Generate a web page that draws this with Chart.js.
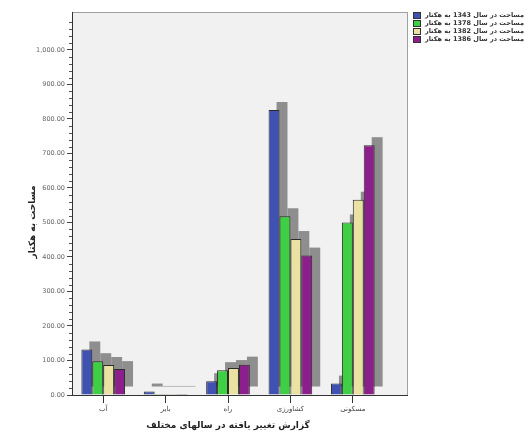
<!DOCTYPE html>
<html>
<head>
<meta charset="utf-8">
<script src="https://cdn.jsdelivr.net/npm/chart.js@4/dist/chart.umd.min.js"></script>
<style>
  html, body { margin: 0; padding: 0; background: #ffffff; }
  #wrap { width: 528px; height: 436px; position: relative; }
</style>
</head>
<body>
<div id="wrap"><canvas id="c" width="528" height="436"></canvas></div>
<script>
// Land use categories
const categories = ['آب', 'بایر', 'راه', 'کشاورزی', 'مسکونی'];

// Area (hectares) per survey year
const area1343 = [132, 10, 40, 826, 33];
const area1378 = [98, 3, 72, 518, 500];
const area1382 = [87, 3, 78, 452, 566];
const area1386 = [75, 3, 88, 404, 724];

const seriesLabels = [
  'مساحت در سال 1343 به هکتار',
  'مساحت در سال 1378 به هکتار',
  'مساحت در سال 1382 به هکتار',
  'مساحت در سال 1386 به هکتار'
];
const seriesColors = ['#3f52b2', '#3fcf45', '#e9e2a2', '#8c1f8c'];

const yTitle = 'مساحت به هکتار';
const xTitle = 'گزارش تغییر یافته در سالهای مختلف';

const FONT = '"DejaVu Sans", sans-serif';
const DEPTH = 8;          // offset of the back face of each bar
const FRAME_EXTRA = 24;   // frame continues past the last category

// Plot frame + background
const framePlugin = {
  id: 'frame',
  beforeDraw(chart) {
    const { ctx, chartArea: a } = chart;
    const w = a.right - a.left + FRAME_EXTRA;
    ctx.save();
    ctx.fillStyle = '#f1f1f1';
    ctx.fillRect(a.left, a.top, w, a.bottom - a.top);
    ctx.strokeStyle = '#a0a0a0';
    ctx.lineWidth = 1;
    ctx.strokeRect(a.left + 0.5, a.top + 0.5, w - 1, a.bottom - a.top);
    ctx.restore();
  },
  afterDraw(chart) {
    const { ctx, chartArea: a } = chart;
    ctx.save();
    ctx.strokeStyle = '#333';
    ctx.lineWidth = 1;
    ctx.beginPath();
    ctx.moveTo(a.left, Math.round(a.bottom) + 0.5);
    ctx.lineTo(a.right + FRAME_EXTRA, Math.round(a.bottom) + 0.5);
    ctx.stroke();
    ctx.restore();
  }
};

// Grey back faces of all bars, drawn underneath every bar front
const depthPlugin = {
  id: 'depth',
  beforeDatasetsDraw(chart) {
    const { ctx } = chart;
    ctx.save();
    ctx.fillStyle = '#8e8e8e';
    chart.data.datasets.forEach((ds, i) => {
      chart.getDatasetMeta(i).data.forEach(el => {
        const w = el.width;
        const left = el.x - w / 2 + DEPTH;
        const top = Math.min(el.y, el.base) - DEPTH;
        const bottom = el.base - DEPTH;
        ctx.fillRect(left, top, w, bottom - top);
      });
    });
    ctx.restore();
  }
};

// Minor ticks, axis title and legend
const decorPlugin = {
  id: 'decor',
  afterDraw(chart) {
    const { ctx, chartArea: a, scales } = chart;
    const y = scales.y;
    ctx.save();
    ctx.strokeStyle = '#555';
    ctx.lineWidth = 1;
    for (let v = 0; v <= 1100; v += 20) {
      if (v % 100 === 0) continue;
      const py = Math.round(y.getPixelForValue(v)) + 0.5;
      ctx.beginPath();
      ctx.moveTo(a.left - 3, py);
      ctx.lineTo(a.left, py);
      ctx.stroke();
    }

    // y title
    ctx.fillStyle = '#222';
    ctx.font = 'bold 9px ' + FONT;
    ctx.textAlign = 'center';
    ctx.textBaseline = 'middle';
    ctx.translate(33, 222);
    ctx.rotate(-Math.PI / 2);
    ctx.direction = 'rtl';
    ctx.fillText(yTitle, 0, 0);
    ctx.restore();

    // legend
    ctx.save();
    const lx = 413, ly0 = 15.5, step = 8;
    ctx.font = 'bold 6.5px ' + FONT;
    ctx.textBaseline = 'middle';
    ctx.direction = 'rtl';
    ctx.textAlign = 'right';
    seriesLabels.forEach((t, i) => {
      const cy = ly0 + i * step;
      ctx.fillStyle = seriesColors[i];
      ctx.fillRect(lx, cy - 3.5, 8, 7);
      ctx.strokeStyle = '#333';
      ctx.strokeRect(lx + 0.5, cy - 3, 7, 6);
      ctx.fillStyle = '#333';
      ctx.fillText(t, 524, cy);
    });
    ctx.restore();
  }
};

const datasets = [area1343, area1378, area1382, area1386].map((d, i) => ({
  label: seriesLabels[i],
  data: d,
  backgroundColor: seriesColors[i],
  borderColor: '#2a2a2a',
  borderWidth: 1,
  categoryPercentage: 0.7,
  barPercentage: 1.0
}));

new Chart(document.getElementById('c'), {
  type: 'bar',
  data: { labels: categories, datasets },
  plugins: [framePlugin, depthPlugin, decorPlugin],
  options: {
    responsive: false,
    animation: false,
    layout: { padding: { left: 0, top: 12, right: 144, bottom: 0 } },
    plugins: { legend: { display: false }, tooltip: { enabled: false } },
    scales: {
      x: {
        afterFit(s) { s.height = 41; },
        grid: { display: true, offset: false, drawOnChartArea: false, drawTicks: true, tickLength: 8, color: '#333' },
        border: { display: true, color: '#333', width: 1 },
        ticks: { font: { size: 7, family: FONT }, color: '#444', padding: 2, maxRotation: 0 },
        title: { display: true, text: xTitle, font: { size: 9, weight: 'bold', family: FONT }, color: '#222', padding: { top: 2, bottom: 5 } }
      },
      y: {
        min: 0,
        max: 1110,
        afterFit(s) { s.width = 72; },
        afterBuildTicks(s) {
          s.ticks = [];
          for (let v = 0; v <= 1000; v += 100) s.ticks.push({ value: v });
        },
        grid: { display: true, drawOnChartArea: false, drawTicks: true, tickLength: 5, color: '#444' },
        border: { display: true, color: '#333', width: 1 },
        ticks: {
          font: { size: 6.5, family: FONT },
          color: '#666',
          padding: 2,
          callback: v => v.toLocaleString('en-US', { minimumFractionDigits: 2, maximumFractionDigits: 2 })
        }
      }
    }
  }
});
</script>
</body>
</html>
